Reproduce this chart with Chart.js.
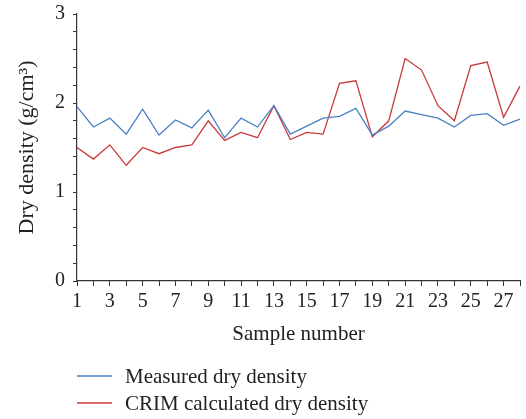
<!DOCTYPE html>
<html>
<head>
<meta charset="utf-8">
<script src="https://cdn.jsdelivr.net/npm/chart.js@4/dist/chart.umd.min.js"></script>
<style>
  html, body { margin: 0; padding: 0; background: #fff; }
  #wrap { width: 526px; height: 419px; position: relative; }
</style>
</head>
<body>
<div id="wrap"><canvas id="c"></canvas></div>
<script>
const categories = ["1","2","3","4","5","6","7","8","9","10","11","12","13","14","15","16","17","18","19","20","21","22","23","24","25","26","27","28"];
const measured = [1.96,1.73,1.83,1.65,1.93,1.64,1.81,1.72,1.92,1.61,1.83,1.73,1.97,1.65,1.74,1.83,1.85,1.94,1.64,1.74,1.91,1.87,1.83,1.73,1.86,1.88,1.75,1.82];
const crim = [1.50,1.37,1.53,1.30,1.50,1.43,1.50,1.53,1.80,1.58,1.67,1.61,1.97,1.59,1.67,1.65,2.22,2.25,1.62,1.80,2.50,2.37,1.97,1.80,2.42,2.46,1.84,2.19];
const seriesLabels = ["Measured dry density", "CRIM calculated dry density"];
const xTitle = "Sample number";
const yTitle = "Dry density (g/cm\u00B3)";

const FONT = "'Liberation Serif', 'Times New Roman', serif";
const AXIS = '#333333';

const legendPlugin = {
  id: 'vlegend',
  afterDraw(chart) {
    const ctx = chart.ctx;
    ctx.save();
    ctx.font = '21px ' + FONT;
    ctx.textBaseline = 'middle';
    ctx.textAlign = 'left';
    chart.data.datasets.forEach((ds, i) => {
      const y = 376 + i * 27;
      ctx.strokeStyle = ds.borderColor;
      ctx.lineWidth = 1.3;
      ctx.beginPath();
      ctx.moveTo(77, y);
      ctx.lineTo(112, y);
      ctx.stroke();
      ctx.fillStyle = '#222';
      ctx.fillText(ds.label, 125, y + 1);
    });
    ctx.restore();
  }
};

new Chart(document.getElementById('c'), {
  type: 'line',
  data: {
    labels: categories,
    datasets: [
      { label: seriesLabels[0], data: measured, borderColor: '#4a80c4', borderWidth: 1.3, pointRadius: 0, tension: 0, fill: false },
      { label: seriesLabels[1], data: crim, borderColor: '#c8393b', borderWidth: 1.3, pointRadius: 0, tension: 0, fill: false }
    ]
  },
  options: {
    responsive: true,
    maintainAspectRatio: false,
    animation: false,
    layout: { padding: { top: 14, right: 6, bottom: 70, left: 0 } },
    plugins: { legend: { display: false }, tooltip: { enabled: false } },
    scales: {
      x: {
        type: 'category',
        offset: false,
        grid: { drawOnChartArea: false, drawTicks: true, tickLength: 5, color: AXIS, lineWidth: 1 },
        border: { color: AXIS, width: 1.2 },
        ticks: {
          autoSkip: false, maxRotation: 0, padding: 4, color: '#222',
          font: { family: FONT, size: 20 },
          callback: function(v, i) { return (i % 2 === 0) ? this.getLabelForValue(v) : ''; }
        },
        title: { display: true, text: xTitle, color: '#222', font: { family: FONT, size: 21 }, padding: { top: 0, bottom: 2 } },
        afterFit: (s) => { s.height = 68; s.paddingLeft = 0; s.paddingRight = 0; }
      },
      y: {
        min: 0, max: 3,
        grid: { drawOnChartArea: false, drawTicks: true, tickLength: 4, color: AXIS, lineWidth: 1 },
        border: { color: AXIS, width: 1.2 },
        ticks: {
          stepSize: 0.2, autoSkip: false, padding: 8, color: '#222',
          font: { family: FONT, size: 20 },
          callback: (v) => Math.abs(v - Math.round(v)) < 1e-6 ? String(Math.round(v)) : ''
        },
        title: { display: true, text: yTitle, color: '#222', font: { family: FONT, size: 22 }, padding: { top: 14, bottom: 0 } },
        afterFit: (s) => { s.width = 77; s.paddingTop = 0; s.paddingBottom = 0; }
      }
    }
  },
  plugins: [legendPlugin]
});
</script>
</body>
</html>
